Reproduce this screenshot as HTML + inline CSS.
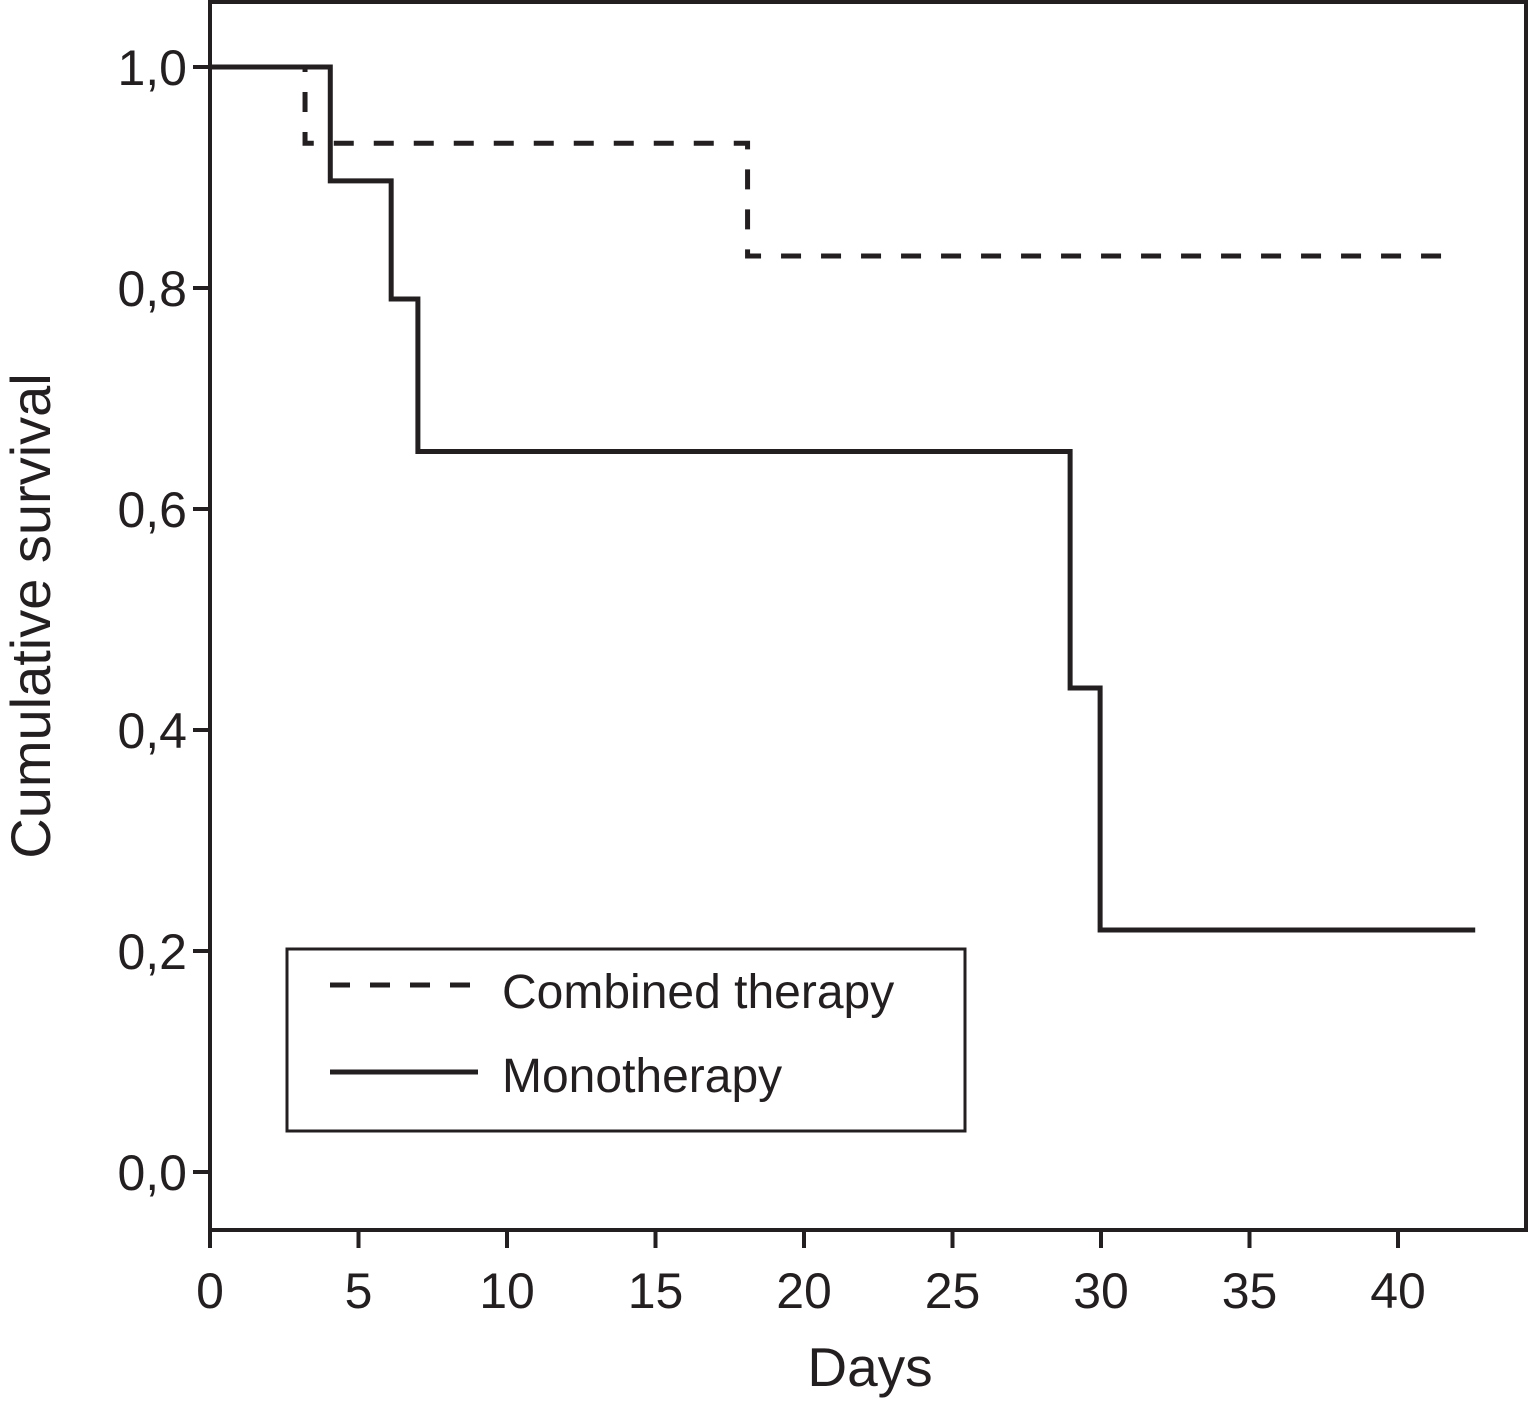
<!DOCTYPE html>
<html><head><meta charset="utf-8"><style>
body{margin:0;background:#fff}
svg text{font-family:"Liberation Sans",Arial,sans-serif;fill:#231f20}
</style></head><body>
<svg id="chart" width="1530" height="1412" viewBox="0 0 1530 1412" xmlns="http://www.w3.org/2000/svg">
<rect x="210" y="2" width="1316" height="1228" fill="none" stroke="#231f20" stroke-width="4"/>
<g id="axes"></g>
<g id="series"></g>
<g>
<rect x="287" y="949" width="678" height="182" fill="#fff" stroke="#231f20" stroke-width="3"/>
<line x1="330" y1="985" x2="478" y2="985" stroke="#231f20" stroke-width="5" stroke-dasharray="20,20"/>
<text x="502" y="1008" font-size="48">Combined therapy</text>
<line x1="330" y1="1072" x2="478" y2="1072" stroke="#231f20" stroke-width="5"/>
<text x="502" y="1092" font-size="48">Monotherapy</text>
</g>
<text x="870" y="1386" font-size="55" text-anchor="middle">Days</text>
<text transform="translate(50,616) rotate(-90)" font-size="56" text-anchor="middle">Cumulative survival</text>
</svg>
<script>
const xTicks=[0,5,10,15,20,25,30,35,40];
const yTicks=[0,0.2,0.4,0.6,0.8,1.0];
const yTickLabels=["0,0","0,2","0,4","0,6","0,8","1,0"];
const combinedTimes=[0,3.2,18.1,41.75];
const combinedSurv=[1.0,0.931,0.829,0.829];
const monoTimes=[0,4.05,6.1,7.0,28.96,29.97,42.6];
const monoSurv=[1.0,0.897,0.790,0.652,0.438,0.219,0.219];
const NS="http://www.w3.org/2000/svg";
const xs=d=>210+d*29.7;
const ys=v=>1172-v*1105;
const axes=document.getElementById('axes'),series=document.getElementById('series');
function mk(tag,attrs,parent){const e=document.createElementNS(NS,tag);for(const k in attrs)e.setAttribute(k,attrs[k]);parent.appendChild(e);return e;}
xTicks.forEach(t=>{
 const l=mk('line',{x1:xs(t),x2:xs(t),y1:1230,y2:1248,stroke:'#231f20','stroke-width':4},axes);
 
 
 const tx=mk('text',{x:xs(t),y:1308,'font-size':50,'text-anchor':'middle'},axes);
 tx.textContent=t;
 
 
});
yTicks.forEach((t,i)=>{
 const l=mk('line',{x1:193,x2:210,y1:ys(t),y2:ys(t),stroke:'#231f20','stroke-width':4},axes);
 
 
 const tx=mk('text',{x:187,y:ys(t)+18,'font-size':50,'text-anchor':'end'},axes);
 tx.textContent=yTickLabels[i];
 
 
});
function stepPath(T,S){let d='M'+xs(T[0])+','+ys(S[0]);for(let i=1;i<T.length;i++){d+=' H'+xs(T[i])+' V'+ys(S[i]);}return d;}
const p1=mk('path',{d:stepPath(monoTimes,monoSurv),fill:'none',stroke:'#231f20','stroke-width':5},series);


const p2=mk('path',{d:stepPath(combinedTimes,combinedSurv),fill:'none',stroke:'#231f20','stroke-width':5,'stroke-dasharray':'20,20'},series);


</script>
</body></html>
